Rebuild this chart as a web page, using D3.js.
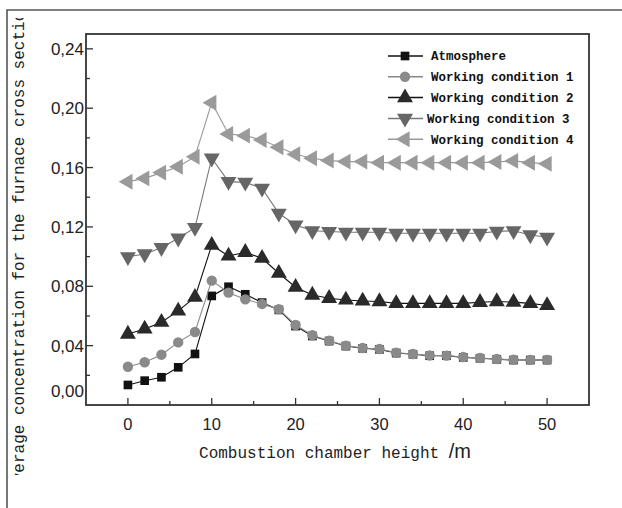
<!DOCTYPE html>
<html><head><meta charset="utf-8">
<script src="https://cdn.jsdelivr.net/npm/d3@7"></script>
<style>html,body{margin:0;padding:0;background:#fff;}</style>
</head><body><div id="chart"></div>
<script>
const heights = [0,2,4,6,8,10,12,14,16,18,20,22,24,26,28,30,32,34,36,38,40,42,44,46,48,50];
const atmosphere = [0.0135,0.0164,0.0187,0.0254,0.0344,0.0735,0.0797,0.0746,0.0690,0.0641,0.0532,0.0465,0.0431,0.0397,0.0382,0.0375,0.0350,0.0342,0.0332,0.0332,0.0321,0.0315,0.0308,0.0303,0.0303,0.0303];
const condition1 = [0.0258,0.0288,0.0339,0.0422,0.0492,0.0838,0.0757,0.0712,0.0681,0.0645,0.0539,0.0470,0.0433,0.0399,0.0384,0.0377,0.0352,0.0344,0.0334,0.0333,0.0323,0.0317,0.0310,0.0305,0.0304,0.0304];
const condition2 = [0.0478,0.0512,0.0558,0.0634,0.0726,0.1077,0.1004,0.1029,0.0989,0.0888,0.0794,0.0741,0.0719,0.0708,0.0701,0.0697,0.0685,0.0685,0.0685,0.0685,0.0685,0.0692,0.0697,0.0693,0.0685,0.0671];
const condition3 = [0.0999,0.1018,0.1060,0.1124,0.1195,0.1663,0.1505,0.1500,0.1460,0.1292,0.1213,0.1174,0.1169,0.1164,0.1164,0.1164,0.1157,0.1157,0.1157,0.1157,0.1157,0.1157,0.1170,0.1174,0.1146,0.1130];
const condition4 = [0.1505,0.1527,0.1566,0.1606,0.1673,0.2037,0.1826,0.1815,0.1786,0.1737,0.1690,0.1663,0.1647,0.1640,0.1640,0.1633,0.1633,0.1633,0.1633,0.1633,0.1633,0.1633,0.1637,0.1645,0.1633,0.1625];
const seriesNames = ["Atmosphere","Working condition 1","Working condition 2","Working condition 3","Working condition 4"];
const xTicks = [0,10,20,30,40,50];
const yTicks = [0,0.04,0.08,0.12,0.16,0.20,0.24];

const W = 622, H = 508;
const m = {left:86, top:34, right:589, bottom:405};
const svg = d3.select("#chart").append("svg").attr("width",W).attr("height",H)
  .style("background","#fff");

// outer frame
svg.append("path").attr("d",`M7,508 V10 H622`).attr("fill","none")
  .attr("stroke","#555").attr("stroke-width",1.6);

const x = d3.scaleLinear().domain([-5,55]).range([m.left,m.right]);
const y = d3.scaleLinear().domain([0,0.25]).range([m.bottom,m.top]);

const axisColor = "#333";
// x axis with inward ticks
const gx = svg.append("g").attr("transform",`translate(0,${m.bottom})`);
d3.range(0,51,5).forEach(v=>{
  gx.append("line").attr("x1",x(v)).attr("x2",x(v)).attr("y1",0)
    .attr("y2", v%10===0 ? -7 : -4).attr("stroke",axisColor).attr("stroke-width",1.3);
});
xTicks.forEach(v=>{
  gx.append("text").attr("x",x(v)).attr("y",25).attr("text-anchor","middle")
    .attr("font-family","Liberation Sans, Arial, sans-serif").attr("font-size",16.5)
    .attr("fill","#222").text(d3.format("d")(v));
});

// y axis
const gy = svg.append("g").attr("transform",`translate(${m.left},0)`);
d3.range(0.02,0.2401,0.02).forEach((v,i)=>{
  gy.append("line").attr("x1",0).attr("x2", i%2===1 ? 7 : 4)
    .attr("y1",y(v)).attr("y2",y(v)).attr("stroke",axisColor).attr("stroke-width",1.3);
});
yTicks.forEach(v=>{
  gy.append("text").attr("x",-2).attr("y",y(v) - (v===0 ? 14 : 0)).attr("dy","0.36em").attr("text-anchor","end")
    .attr("font-family","Liberation Sans, Arial, sans-serif").attr("font-size",17)
    .attr("fill","#222").text(d3.format(".2f")(v).replace(".",","));
});

// plot frame
svg.append("rect").attr("x",m.left).attr("y",m.top).attr("width",m.right-m.left)
  .attr("height",m.bottom-m.top).attr("fill","none").attr("stroke",axisColor).attr("stroke-width",1.8);

// series
const series = [
  {name:seriesNames[0], data:atmosphere, line:"#111", fill:"#111", sym:d3.symbolSquare, size:75, rot:0},
  {name:seriesNames[1], data:condition1, line:"#888", fill:"#8a8a8a", sym:d3.symbolCircle, size:85, rot:0},
  {name:seriesNames[2], data:condition2, line:"#111", fill:"#2a2a2a", sym:d3.symbolTriangle, size:110, rot:0},
  {name:seriesNames[3], data:condition3, line:"#777", fill:"#666", sym:d3.symbolTriangle, size:110, rot:180},
  {name:seriesNames[4], data:condition4, line:"#999", fill:"#9a9a9a", sym:d3.symbolTriangle, size:110, rot:-90}
];
const line = d3.line().x((d,i)=>x(heights[i])).y(d=>y(d));
series.forEach(s=>{
  const g = svg.append("g");
  g.append("path").attr("d",line(s.data)).attr("fill","none").attr("stroke",s.line).attr("stroke-width",1.1);
  g.selectAll("path.m").data(s.data).join("path").attr("class","m")
    .attr("d",d3.symbol().type(s.sym).size(s.size))
    .attr("transform",(d,i)=>`translate(${x(heights[i])},${y(d)}) rotate(${s.rot})`)
    .attr("fill",s.fill);
});

// legend
const lg = svg.append("g");
series.forEach((s,i)=>{
  const yy = 56 + i*20.8;
  lg.append("line").attr("x1",388).attr("x2",423).attr("y1",yy).attr("y2",yy)
    .attr("stroke",s.line).attr("stroke-width",1.5);
  lg.append("path").attr("d",d3.symbol().type(s.sym).size(s.size))
    .attr("transform",`translate(405,${yy}) rotate(${s.rot})`).attr("fill",s.fill);
  lg.append("text").attr("x", i===3 ? 427 : 431).attr("y",yy).attr("dy","0.35em")
    .attr("font-family","Liberation Mono, Courier New, monospace").attr("font-weight","bold")
    .attr("font-size",12.5).attr("fill","#111").text(s.name);
});

// axis titles
svg.append("text").attr("x",335).attr("y",458).attr("text-anchor","middle")
  .attr("font-family","Liberation Mono, Courier New, monospace").attr("font-size",16).attr("fill","#222")
  .text("Combustion chamber height ")
  .append("tspan").attr("font-family","Liberation Sans, Arial, sans-serif").attr("font-size",20).text("/m");

const clip = svg.append("clipPath").attr("id","yclip");
clip.append("rect").attr("x",0).attr("y",18).attr("width",40).attr("height",457);
svg.append("g").attr("clip-path","url(#yclip)")
  .append("text").attr("transform","translate(24,247) rotate(-90)").attr("text-anchor","middle")
  .attr("font-family","Liberation Mono, Courier New, monospace").attr("font-size",16).attr("fill","#222")
  .text("Average concentration for the furnace cross section");
</script></body></html>
